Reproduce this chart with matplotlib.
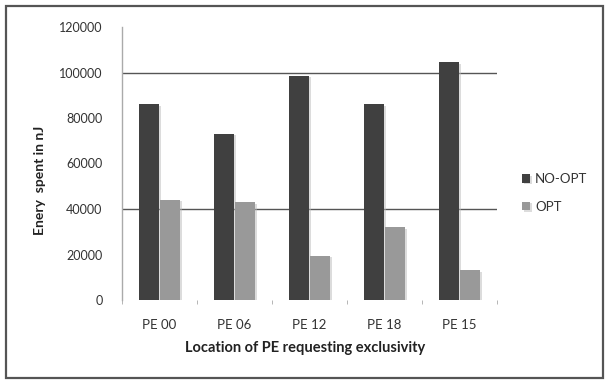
import matplotlib
matplotlib.use("Agg")
import matplotlib.pyplot as plt
import numpy as np
from matplotlib.patches import Rectangle
from matplotlib import patheffects as pe

categories = ["PE 00", "PE 06", "PE 12", "PE 18", "PE 15"]
no_opt = [86000, 73000, 98500, 86000, 104500]
opt = [44000, 43000, 19500, 32000, 13000]
yticks = [0, 20000, 40000, 60000, 80000, 100000, 120000]
visible_grid = [40000, 100000]

plt.rcParams['font.family'] = ['Lato', 'DejaVu Sans']

W, H = 605, 380
fig = plt.figure(figsize=(W/100, H/100), dpi=100)
fig.patch.set_facecolor('white')

# outer border
fig.patches.append(Rectangle((6/W, 1-378/H), 597/W, (378-6)/H, transform=fig.transFigure,
                             fill=False, edgecolor='#555555', lw=1.6))

ax = fig.add_axes([122/W, 1-300/H, (497-122)/W, (300-27)/H])
x = np.arange(len(categories))
w = 0.265
shadow = [pe.SimplePatchShadow(offset=(1.5, -1.0), shadow_rgbFace='#bbbbbb', alpha=0.5), pe.Normal()]
b1 = ax.bar(x - 0.14, no_opt, w, color='#404040', zorder=3, label='NO-OPT')
b2 = ax.bar(x + 0.14, opt, w, color='#999999', zorder=3, label='OPT')
for b in list(b1) + list(b2):
    b.set_path_effects(shadow)

for g in visible_grid:
    ax.axhline(g, color='#555555', lw=1.0, zorder=1)

ax.set_xlim(-0.5, len(categories) - 0.5)
ax.set_ylim(0, 120000)
ax.set_yticks(yticks)
ax.set_yticklabels([str(v) for v in yticks], fontsize=9, color='#333333')
ax.tick_params(axis='y', length=0, pad=14)
ax.set_xticks(x)
ax.set_xticklabels(categories, fontsize=9.5, color='#333333')
ax.tick_params(axis='x', length=0, pad=14)
ax.set_xticks(np.arange(len(categories) + 1) - 0.5, minor=True)
ax.tick_params(axis='x', which='minor', length=3, color='#aaaaaa', direction='out')

for s in ['top', 'right', 'bottom']:
    ax.spines[s].set_visible(False)
ax.spines['left'].set_color('#aaaaaa')
ax.spines['left'].set_linewidth(1.0)

fig.text(40/W, 1-180/H, "Enery  spent in nJ", rotation=90, ha='center', va='center',
         fontsize=10, fontweight='bold', color='#222222')
fig.text(305/W, 1-348/H, "Location of PE requesting exclusivity", ha='center', va='center',
         fontsize=10.5, fontweight='bold', color='#222222')

leg = ax.legend(handles=[b1, b2], loc='center left', bbox_to_anchor=(510/W, 1-193/H),
                bbox_transform=fig.transFigure, frameon=False, fontsize=9.5,
                handlelength=0.6, handleheight=0.6, handletextpad=0.4, labelspacing=1.2)
for t in leg.get_texts():
    t.set_color('#333333')

fig.savefig("out.png", dpi=100, facecolor='white')
